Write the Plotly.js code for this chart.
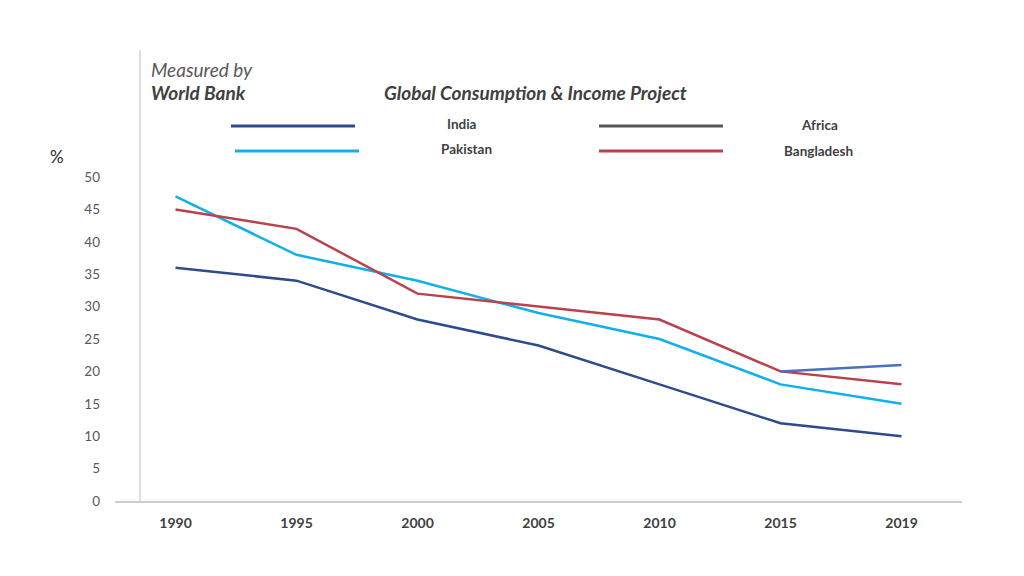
<!DOCTYPE html>
<html>
<head>
<meta charset="utf-8">
<script src="https://cdn.plot.ly/plotly-3.0.1.min.js"></script>
<style>html,body{margin:0;padding:0;background:#fff;}#chart{width:1024px;height:576px;}</style>
</head>
<body>
<div id="chart"></div>
<script>
const years = ['1990','1995','2000','2005','2010','2015','2019'];
const india = [36, 34, 28, 24, 18, 12, 10];
const pakistan = [47, 38, 34, 29, 25, 18, 15];
const bangladesh = [45, 42, 32, 30, 28, 20, 18];
const africa = [null, null, null, null, null, 20, 21];
const seriesNames = ['India', 'Pakistan', 'Africa', 'Bangladesh'];
const yTicks = [0, 5, 10, 15, 20, 25, 30, 35, 40, 45, 50];

const FONT = 'Lato, "Open Sans", "Liberation Sans", sans-serif';
const colIndia = '#2E4B8B', colPak = '#12B0EA', colBang = '#B8434D', colAfr = '#4A70C2', colAfrLeg = '#555555';

// pixel -> paper helpers (plot area 115..962 x, 177..501 y)
const L = 115, R = 962, T = 177, B = 501;
const px = x => (x - L) / (R - L);
const py = y => (B - y) / (B - T);

const mk = (y, name, color) => ({
  x: years, y: y, name: name, type: 'scatter', mode: 'lines',
  line: {color: color, width: 2.5}, showlegend: false, connectgaps: false, hoverinfo: 'x+y+name'
});

const data = [
  mk(india, seriesNames[0], colIndia),
  mk(pakistan, seriesNames[1], colPak),
  mk(bangladesh, seriesNames[3], colBang),
  mk(africa, seriesNames[2], colAfr)
];

const legLine = (x0, x1, y, color) => ({type: 'line', xref: 'paper', yref: 'paper',
  x0: px(x0), x1: px(x1), y0: py(y), y1: py(y), line: {color: color, width: 3}});
const txt = (text, x, y, size, opts) => Object.assign({text: text, xref: 'paper', yref: 'paper',
  x: px(x), y: py(y), showarrow: false, xanchor: 'center', yanchor: 'middle',
  font: {family: FONT, size: size, color: '#404040'}}, opts || {});

const layout = {
  width: 1024, height: 576,
  margin: {l: L, r: 1024 - R, t: T, b: 576 - B, pad: 0},
  paper_bgcolor: '#ffffff', plot_bgcolor: '#ffffff',
  font: {family: FONT},
  showlegend: false,
  xaxis: {type: 'category', range: [-0.5, 6.5], showgrid: false, zeroline: false,
    showline: true, linecolor: '#cccccc', linewidth: 1.5, ticks: '',
    tickfont: {family: FONT, size: 14, color: '#404040', weight: 'bold'}, ticklabelstandoff: 9, fixedrange: true},
  yaxis: {range: [0, 50], tickvals: yTicks, ticktext: yTicks.map(String), showgrid: false, zeroline: false,
    showline: false, ticks: '', ticklabelstandoff: 14,
    tickfont: {family: FONT, size: 13.5, color: '#595959'}, fixedrange: true},
  shapes: [
    {type: 'line', xref: 'paper', yref: 'paper', x0: px(140), x1: px(140), y0: py(50), y1: py(501),
      line: {color: '#d3d3d3', width: 1.5}},
    legLine(231, 355, 126, colIndia),
    legLine(235, 359, 151, colPak),
    legLine(599, 723, 126, colAfrLeg),
    legLine(599, 723, 151, colBang)
  ],
  annotations: [
    txt('<i>Measured by</i>', 149, 69, 19, {xanchor: 'left', font: {family: FONT, size: 19, color: '#595959'}}),
    txt('<b><i>World Bank</i></b>', 149, 93, 19, {xanchor: 'left', font: {family: FONT, size: 19, color: '#404040'}}),
    txt('<b><i>Global Consumption &amp; Income Project</i></b>', 535, 93, 19, {font: {family: FONT, size: 19, color: '#404040'}}),
    txt('<b>' + seriesNames[0] + '</b>', 462, 124, 13.5),
    txt('<b>' + seriesNames[1] + '</b>', 466, 149, 13.5),
    txt('<b>' + seriesNames[2] + '</b>', 819, 125, 13.5),
    txt('<b>' + seriesNames[3] + '</b>', 818, 151, 13.5),
    txt('%', 57, 157, 17, {font: {family: FONT, size: 17, color: '#262626'}})
  ]
};

Plotly.newPlot('chart', data, layout, {displayModeBar: false, staticPlot: true});
</script>
</body>
</html>
